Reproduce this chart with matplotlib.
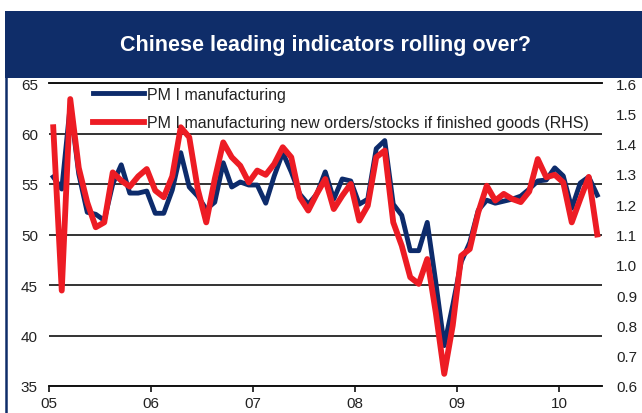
import numpy as np
import matplotlib
matplotlib.use("Agg")
import matplotlib.pyplot as plt
from matplotlib.patches import Rectangle
from matplotlib.lines import Line2D

plt.rcParams['font.family'] = ['Liberation Sans', 'DejaVu Sans']

# monthly series, Jan 2005 - May 2010
pmi = [55.7, 54.5, 62.8, 56.0, 52.2, 52.0, 51.4, 55.0, 56.9, 54.1, 54.1, 54.3,
       52.1, 52.1, 54.4, 58.1, 54.7, 53.8, 52.5, 53.2, 57.1, 54.7, 55.2, 54.9,
       54.9, 53.1, 55.8, 58.1, 56.2, 54.0, 53.0, 54.0, 56.2, 53.5, 55.5, 55.3,
       53.0, 53.5, 58.5, 59.3, 53.0, 51.9, 48.4, 48.4, 51.2, 45.3, 39.0, 43.0,
       47.3, 49.2, 52.4, 53.4, 53.1, 53.3, 53.5, 53.8, 54.5, 55.3, 55.4, 56.6,
       55.8, 52.6, 55.1, 55.7, 53.9]
orders_stocks = [1.454, 0.915, 1.547, 1.320, 1.206, 1.124, 1.140, 1.305, 1.278, 1.258, 1.292, 1.316,
                 1.245, 1.223, 1.292, 1.454, 1.421, 1.250, 1.140, 1.283, 1.404, 1.355, 1.327, 1.272,
                 1.311, 1.297, 1.333, 1.388, 1.355, 1.223, 1.179, 1.234, 1.283, 1.184, 1.228, 1.267,
                 1.146, 1.195, 1.355, 1.377, 1.140, 1.063, 0.959, 0.937, 1.019, 0.843, 0.640, 0.800,
                 1.030, 1.052, 1.173, 1.261, 1.212, 1.234, 1.217, 1.207, 1.242, 1.349, 1.289, 1.297,
                 1.272, 1.140, 1.217, 1.290, 1.100]
years = [2005, 2006, 2007, 2008, 2009, 2010]
year_labels = ['05', '06', '07', '08', '09', '10']

navy = '#0D2B6B'
red = '#ED1C24'

x = 2005 + (np.arange(len(pmi)) + 0.5) / 12

fig = plt.figure(figsize=(6.42, 4.14), dpi=100)

# title banner and panel border
fig.add_artist(Rectangle((5 / 642, 1 - 79 / 414), 1, 67 / 414, transform=fig.transFigure,
                         facecolor='#0F2D69', edgecolor='none'))
fig.add_artist(Line2D([6 / 642, 6 / 642], [0, 1 - 79 / 414], transform=fig.transFigure,
                      color='#0F2D69', lw=1.8))
fig.text(326 / 642, 1 - 45 / 414, 'Chinese leading indicators rolling over?', color='white',
         fontsize=15.5, fontweight='bold', ha='center', va='center')

ax = fig.add_axes([49 / 642, 27 / 414, 553 / 642, 303 / 414])
ax2 = ax.twinx()

ax.plot(x, pmi, color=navy, lw=3.5, label='PM I manufacturing')
ax2.plot(x, orders_stocks, color=red, lw=4.2,
         label='PM I manufacturing new orders/stocks if finished goods (RHS)')

ax.set_xlim(2005, 2005 + 553 / 102)
ax.set_ylim(35, 65)
ax2.set_ylim(0.6, 1.6)
ax.set_yticks(np.arange(35, 66, 5))
ax2.set_yticks(np.arange(0.6, 1.61, 0.1))
ax2.set_yticklabels([f'{v:.1f}' for v in np.arange(0.6, 1.61, 0.1)])
ax.set_xticks(years)
ax.set_xticklabels(year_labels)

ax.grid(axis='y', color='#111111', lw=1.2)
ax.set_axisbelow(True)
for a in (ax, ax2):
    for side in ('left', 'right'):
        a.spines[side].set_visible(False)
    for side in ('top', 'bottom'):
        a.spines[side].set_color('#111111')
        a.spines[side].set_linewidth(1.2)

ax.tick_params(axis='y', length=0, pad=8, labelsize=11, labelcolor='#222222')
ax2.tick_params(axis='y', length=0, pad=10, labelsize=11, labelcolor='#222222')
ax.tick_params(axis='x', length=4, width=1.2, color='#111111', pad=3,
               labelsize=11, labelcolor='#222222')

h1, l1 = ax.get_legend_handles_labels()
h2, l2 = ax2.get_legend_handles_labels()
ax2.legend(h1 + h2, l1 + l2, loc='upper left', bbox_to_anchor=(0.0796, 0.988),
           frameon=False, fontsize=11.5, handlelength=3.2, handletextpad=0.2,
           labelspacing=0.85, borderpad=0, borderaxespad=0, labelcolor='#222222')

fig.savefig('out.png', dpi=100)
